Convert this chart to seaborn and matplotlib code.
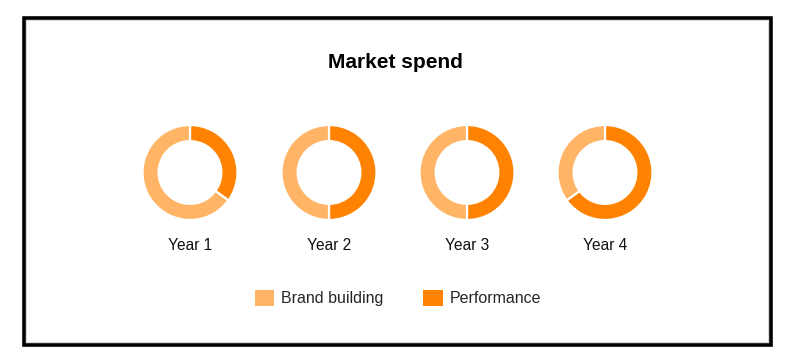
import matplotlib
matplotlib.use("Agg")
import matplotlib.pyplot as plt
import seaborn as sns
from matplotlib.patches import Rectangle, Patch

# Data
years = ["Year 1", "Year 2", "Year 3", "Year 4"]
series_names = ["Brand building", "Performance"]
brand_building = [65, 50, 50, 35]
performance = [35, 50, 50, 65]

sns.set_theme(style="white")
plt.rcParams['font.family'] = ['Liberation Sans', 'DejaVu Sans']

light = "#FFB466"
dark = "#FF8200"

W, H = 807, 358
fig = plt.figure(figsize=(W / 100, H / 100), dpi=100)
fig.patch.set_facecolor("white")

# Frame border
fig.add_artist(Rectangle((24 / W, 1 - 344.5 / H), 746.5 / W, 326.5 / H,
                         transform=fig.transFigure, fill=False,
                         edgecolor="black", linewidth=2.6))
fig.add_artist(Rectangle((26.5 / W, 1 - 342 / H), 741.5 / W, 322 / H,
                         transform=fig.transFigure, fill=False,
                         edgecolor="#d0d0d0", linewidth=0.6))

fig.text(395 / W, 1 - 62 / H, "Market spend", ha="center", va="center",
         fontsize=15, fontweight="bold", color="black")

centers_x = [190, 329, 467, 605]
cy = 172.5
r = 47.5
for i, yr in enumerate(years):
    cx = centers_x[i]
    ax = fig.add_axes([(cx - r) / W, 1 - (cy + r) / H, 2 * r / W, 2 * r / H])
    ax.pie([performance[i], brand_building[i]], colors=[dark, light],
           startangle=90, counterclock=False, radius=1,
           wedgeprops=dict(width=0.34, edgecolor="white", linewidth=1.6))
    ax.set_xlim(-1, 1)
    ax.set_ylim(-1, 1)
    ax.set_aspect("equal")
    ax.axis("off")
    fig.text(cx / W, 1 - 246 / H, yr, ha="center", va="center",
             fontsize=11.2, color="#111111")

handles = [Patch(facecolor=light, edgecolor="none"),
           Patch(facecolor=dark, edgecolor="none")]
fig.legend(handles, series_names, loc="center", bbox_to_anchor=(398 / W, 1 - 298 / H),
           ncol=2, frameon=False, fontsize=11.5, handlelength=1.2, handleheight=1.2,
           handletextpad=0.45, columnspacing=2.5)

fig.savefig("out.png", dpi=100, facecolor="white")
